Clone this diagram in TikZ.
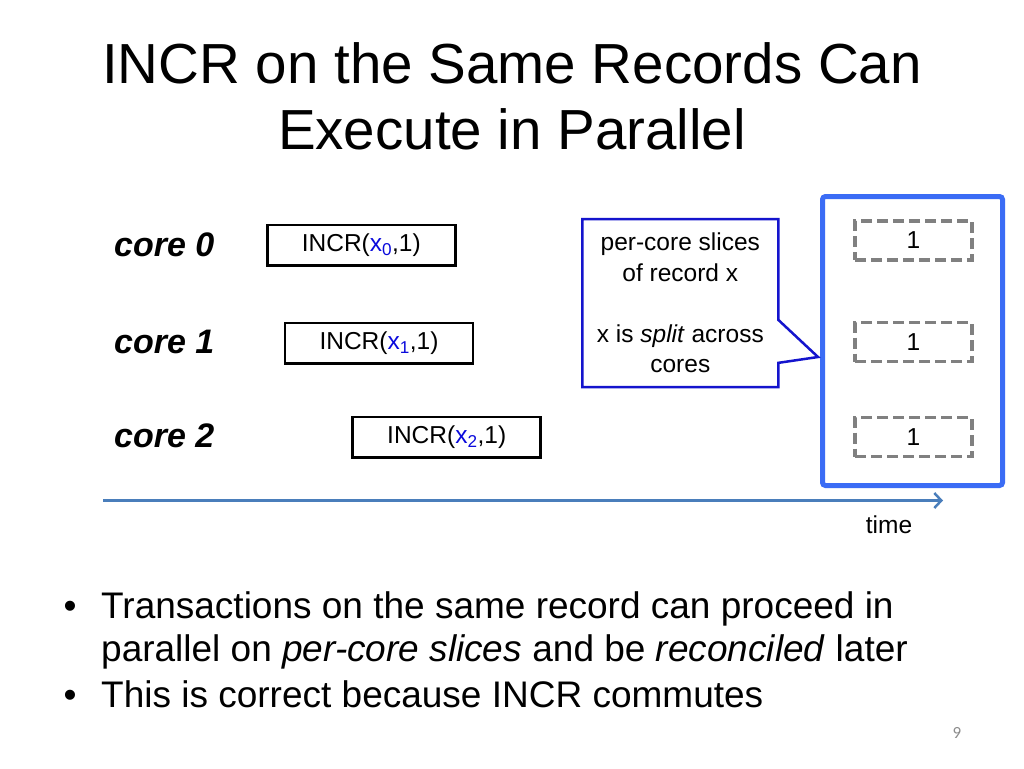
\documentclass[tikz,border=0pt]{standalone}
\usepackage{fontspec}
\setmainfont{Liberation Sans}
\newfontfamily\pagefont{Carlito}
\usetikzlibrary{shapes.callouts,arrows.meta,calc}
\definecolor{sliceblue}{RGB}{59,108,245}
\definecolor{calloutblue}{RGB}{20,20,205}
\definecolor{timeblue}{RGB}{74,126,187}
\definecolor{xblue}{RGB}{10,10,220}
\definecolor{dashgray}{RGB}{128,128,128}
\definecolor{pagegray}{RGB}{140,140,140}
\begin{document}
\begin{tikzpicture}[x=1pt,y=-1pt,
  titletext/.style={font=\fontsize{56.5}{66}\selectfont, anchor=base, inner sep=0pt},
  corelabel/.style={font=\fontsize{34}{40}\selectfont\bfseries\itshape, anchor=base west, inner sep=0pt},
  opbox/.style={draw=black, line width=2.5pt, minimum width=188pt, minimum height=40.5pt, inner sep=0pt, font=\fontsize{24.5}{29}\selectfont},
  slicebox/.style={draw=dashgray, line width=3.5pt, dash pattern=on 11pt off 5pt, minimum width=117pt, minimum height=39pt, inner sep=0pt, font=\fontsize{24.5}{29}\selectfont},
  bigbox/.style={draw=sliceblue, line width=5pt, rounded corners=3pt, minimum width=180pt, minimum height=289pt, inner sep=0pt},
  note/.style={rectangle callout, draw=calloutblue, line width=2.5pt, fill=white, minimum width=196pt, minimum height=168pt, align=center, inner sep=0pt, font=\fontsize{24.5}{30.5}\selectfont, callout pointer width=43pt},
  smalltext/.style={font=\fontsize{24.5}{29}\selectfont, anchor=base, inner sep=0pt},
  bodytext/.style={font=\fontsize{37}{43}\selectfont, anchor=base west, inner sep=0pt},
  bulletdot/.style={font=\fontsize{37}{43}\selectfont, anchor=base, inner sep=0pt},
  timeline/.style={draw=timeblue, line width=3pt, -{Straight Barb[length=7pt,width=15pt,line width=2.5pt]}}
]
\fill[white] (0,0) rectangle (1024,768);
\useasboundingbox (0,0) rectangle (1024,768);

% title
\node[titletext] (title1) at (512,83) {INCR on the Same Records Can};
\node[titletext] (title2) at (512,149) {Execute in Parallel};

% core labels
\node[corelabel] (core0) at (114,256) {core 0};
\node[corelabel] (core1) at (114,353) {core 1};
\node[corelabel] (core2) at (114,447) {core 2};

% operations
\node[opbox] (op0) at (361.3,245.3) {INCR(\textcolor{xblue}{x\textsubscript{0}},1)};
\node[opbox] (op1) at (379,343) {INCR(\textcolor{xblue}{x\textsubscript{1}},1)};
\node[opbox] (op2) at (446.7,437.4) {INCR(\textcolor{xblue}{x\textsubscript{2}},1)};

% per-core slices
\node[bigbox] (slices) at (912.5,341) {};
\node[slicebox] (s0) at (913.5,240.5) {1};
\node[slicebox] (s1) at (913.5,342) {1};
\node[slicebox] (s2) at (913.5,437) {1};

% callout
\node[note, callout absolute pointer={($(slices.west)+(-2,16)$)}] (callout) at (680.3,303)
  {per-core slices\\of record x\\[30.5pt]x is \textit{split} across\\cores};

% time axis
\coordinate (t0) at (103,500.5);
\coordinate (t1) at (943,500.5);
\draw[timeline] (t0) -- (t1);
\node[smalltext] (time) at (889,533) {time};

% bullets
\node[bulletdot] (d1) at (70,618) {•};
\node[bodytext] (b1) at (101,618) {\vtop{\baselineskip=43pt\hbox{Transactions on the same record can proceed in}\hbox{parallel on \textit{per-core slices} and be \textit{reconciled} later}}};
\node[bulletdot] (d2) at (70,707) {•};
\node[bodytext] (b2) at (101,707) {This is correct because INCR commutes};

% page number
\node[font=\pagefont\fontsize{17}{20}\selectfont, text=pagegray, anchor=base, inner sep=0pt] (pagenum) at (957,738) {9};
\end{tikzpicture}
\end{document}
